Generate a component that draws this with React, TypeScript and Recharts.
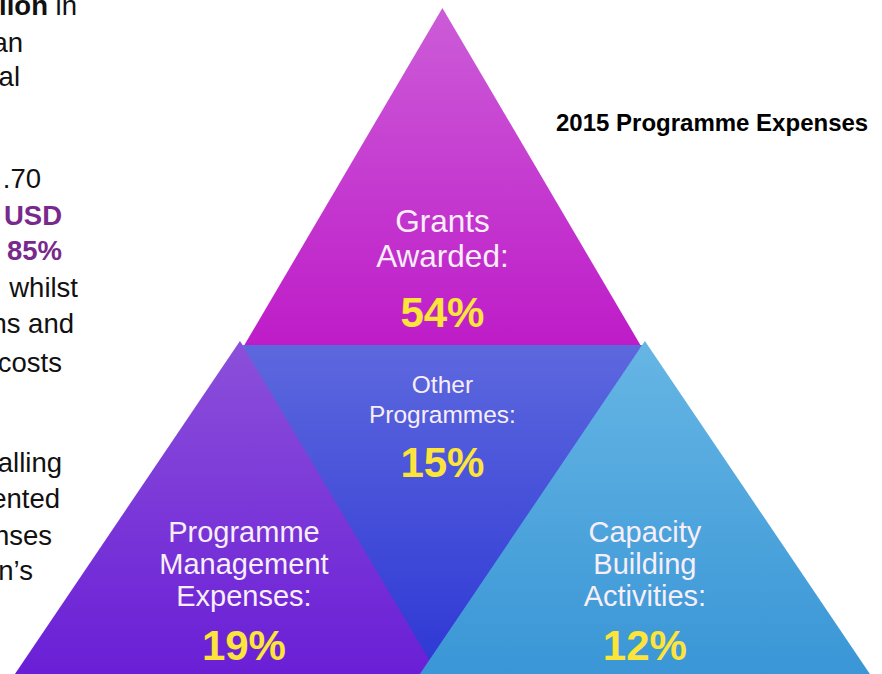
import React from "react";
import { ScatterChart, Scatter, XAxis, YAxis } from "recharts";

// 2015 programme expenses, share of total (%)
const categories = [
  "Programme Management Expenses",
  "Other Programmes",
  "Capacity Building Activities",
  "Grants Awarded",
];
const labelLines = [
  ["Programme", "Management", "Expenses:"],
  ["Other", "Programmes:"],
  ["Capacity", "Building", "Activities:"],
  ["Grants", "Awarded:"],
];
const shares = [19, 15, 12, 54];

// pyramid slots (column, row base) and which way each tile points
const slotCol = [-1, 0, 1, 0];
const slotRow = [0, 1, 0, 1];
const slotKind = ["base", "inverted", "base", "apex"];

const W = 882;
const H = 674;

const tileStyle: Record<string, any> = {
  apex: { halfW: 198, h: 337, grad: "gradGrants", size: 31.5, gap: 35, first: -113, valY: -18, valSize: 42 },
  inverted: { halfW: 200, h: 337, grad: "gradOther", size: 24.5, gap: 30, first: 48, valY: 132, valSize: 42 },
  base: { halfW: 225, h: 333, grad: "", size: 29, gap: 32, first: -132, valY: -14, valSize: 42 },
};
const baseGrads = ["gradMgmt", "", "gradCap"];
const textShift = [4, 0, 0, 0];

const rows = categories.map((name, i) => ({
  name,
  lines: labelLines[i],
  share: shares[i],
  col: slotCol[i],
  row: slotRow[i],
  kind: slotKind[i],
  idx: i,
}));

// left-hand paragraph, clipped by the page edge in the source
const paraLines = [
  { text: "lion", tail: " in", right: 77, y: 15, bold: true },
  { text: "an", right: 23, y: 52 },
  { text: "al", right: 20, y: 86 },
  { text: ".70", right: 41, y: 188 },
  { text: "USD", right: 62, y: 225, bold: true, purple: true },
  { text: "85%", right: 62, y: 260, bold: true, purple: true },
  { text: "whilst", right: 78, y: 297 },
  { text: "ns and", right: 74, y: 333 },
  { text: "costs", right: 62, y: 372 },
  { text: "alling", right: 62, y: 472 },
  { text: "ented", right: 60, y: 508 },
  { text: "nses", right: 52, y: 545 },
  { text: "n\u2019s", right: 33, y: 580 },
];

const FONT = "'Liberation Sans', Arial, Helvetica, sans-serif";

function Tile(props: any) {
  const { cx, cy, payload } = props;
  const st = tileStyle[payload.kind];
  const up = payload.kind !== "inverted";
  const apexY = up ? cy - st.h : cy + st.h;
  const d = `M${cx - st.halfW},${cy} L${cx + st.halfW},${cy} L${cx},${apexY} Z`;
  const grad = st.grad || baseGrads[payload.idx];
  const tx = cx + textShift[payload.idx];
  return (
    <g>
      <path d={d} fill={`url(#${grad})`} />
      {payload.lines.map((ln: string, k: number) => (
        <text
          key={k}
          x={tx}
          y={cy + st.first + k * st.gap}
          textAnchor="middle"
          fontFamily={FONT}
          fontSize={st.size}
          fill="#f8eef8"
        >
          {ln}
        </text>
      ))}
      <text
        x={tx}
        y={cy + st.valY}
        textAnchor="middle"
        fontFamily={FONT}
        fontWeight="bold"
        fontSize={st.valSize}
        fill="#fde43a"
      >
        {`${payload.share}%`}
      </text>
    </g>
  );
}

export default function App() {
  return (
    <div style={{ position: "absolute", left: 0, top: 0, width: W, height: H, background: "#fff" }}>
      <ScatterChart width={W} height={H} margin={{ top: 16, right: 0, bottom: 0, left: 0 }}>
        <defs>
          <linearGradient id="gradGrants" x1="0" y1="0" x2="0" y2="1">
            <stop offset="0%" stopColor="#cc5cd8" />
            <stop offset="100%" stopColor="#be1cc8" />
          </linearGradient>
          <linearGradient id="gradOther" x1="0" y1="0" x2="0" y2="1">
            <stop offset="0%" stopColor="#5d68de" />
            <stop offset="100%" stopColor="#2c36d4" />
          </linearGradient>
          <linearGradient id="gradMgmt" x1="0" y1="0" x2="0" y2="1">
            <stop offset="0%" stopColor="#8c50da" />
            <stop offset="100%" stopColor="#6a1fd6" />
          </linearGradient>
          <linearGradient id="gradCap" x1="0" y1="0" x2="0" y2="1">
            <stop offset="0%" stopColor="#66b6e4" />
            <stop offset="100%" stopColor="#3a96d6" />
          </linearGradient>
        </defs>
        <XAxis type="number" dataKey="col" domain={[-2.185, 2.171]} hide />
        <YAxis type="number" dataKey="row" domain={[0, 2]} hide />
        <Scatter data={rows} shape={<Tile />} isAnimationActive={false} />
      </ScatterChart>
      <svg width={W} height={H} style={{ position: "absolute", left: 0, top: 0, pointerEvents: "none" }}>
        <text x={556} y={131} fontFamily={FONT} fontWeight="bold" fontSize={24} fill="#000">
          2015 Programme Expenses
        </text>
        {paraLines.map((p, i) => (
          <text
            key={i}
            x={p.right}
            y={p.y}
            textAnchor="end"
            fontFamily={FONT}
            fontSize={27.5}
            fill={p.purple ? "#782a8c" : "#111"}
          >
            <tspan fontWeight={p.bold ? "bold" : "normal"}>{p.text}</tspan>
            {p.tail ? <tspan>{p.tail}</tspan> : null}
          </text>
        ))}
      </svg>
    </div>
  );
}
